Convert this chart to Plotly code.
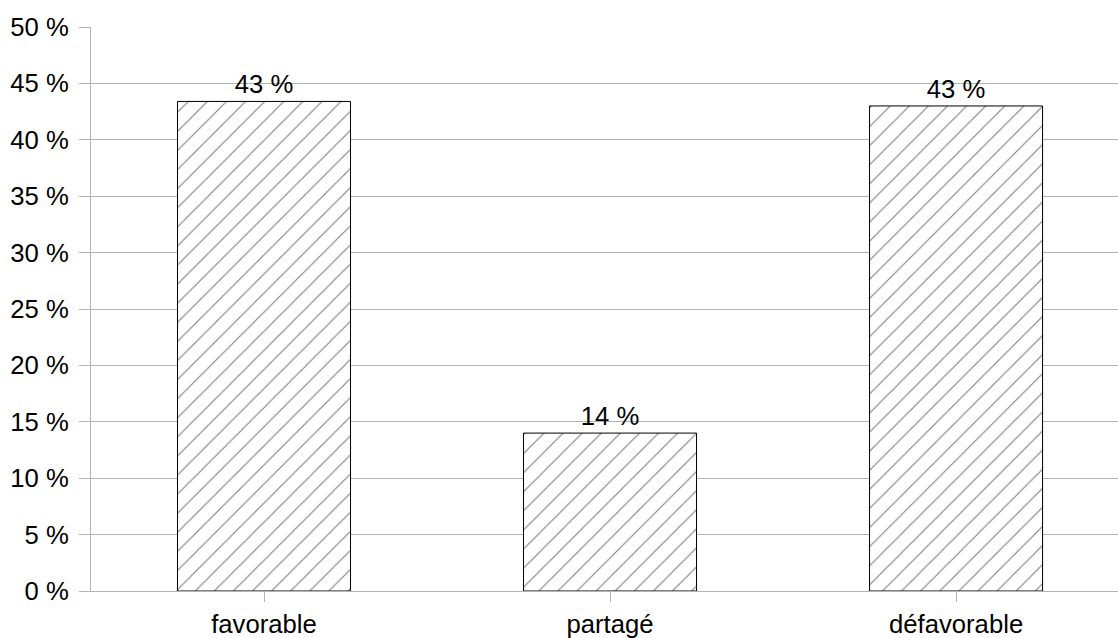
import plotly.graph_objects as go

categories = ["favorable", "partagé", "défavorable"]
values = [43.4, 14.0, 43.0]
labels = [f"{round(v)} %" for v in values]
y_ticks = list(range(0, 55, 5))
y_tick_text = [f"{t} %" for t in y_ticks]

FONT = "Liberation Sans, Arial, sans-serif"
GRID = "#b3b3b3"
FS = 25.7

fig = go.Figure(
    go.Bar(
        x=[0, 1, 2],
        y=values,
        width=0.5,
        text=labels,
        textposition="outside",
        textfont=dict(family=FONT, size=FS, color="black"),
        cliponaxis=False,
        marker=dict(
            color="white",
            line=dict(color="black", width=1),
            pattern=dict(shape="/", size=13.5, solidity=0.085, fgcolor="black", bgcolor="white"),
        ),
        hoverinfo="skip",
    )
)

fig.update_layout(
    width=1118,
    height=638,
    margin=dict(l=91, r=0, t=27, b=47, pad=0),
    paper_bgcolor="white",
    plot_bgcolor="white",
    showlegend=False,
    font=dict(family=FONT, size=FS, color="black"),
    bargap=0,
)

fig.update_xaxes(
    tickmode="array",
    tickvals=[0, 1, 2],
    ticktext=categories,
    range=[-0.5, 2.468],
    showgrid=False,
    showline=True,
    linecolor=GRID,
    linewidth=1,
    ticks="outside",
    tickson="boundaries",
    ticklen=10,
    tickcolor=GRID,
    tickfont=dict(family=FONT, size=FS, color="black"),
    zeroline=False,
    automargin=False,
)

fig.update_yaxes(
    range=[0, 50],
    tickmode="array",
    tickvals=y_ticks,
    ticktext=y_tick_text,
    showgrid=True,
    gridcolor=GRID,
    gridwidth=1,
    showline=True,
    linecolor=GRID,
    linewidth=1,
    ticks="outside",
    ticklen=11,
    tickcolor=GRID,
    ticklabelstandoff=5,
    tickfont=dict(family=FONT, size=FS, color="black"),
    zeroline=False,
    automargin=False,
)

fig.write_html(
    "out.html",
    config={"displayModeBar": False, "staticPlot": True},
    post_script="document.body.style.margin='0';document.body.style.overflow='hidden';",
)
